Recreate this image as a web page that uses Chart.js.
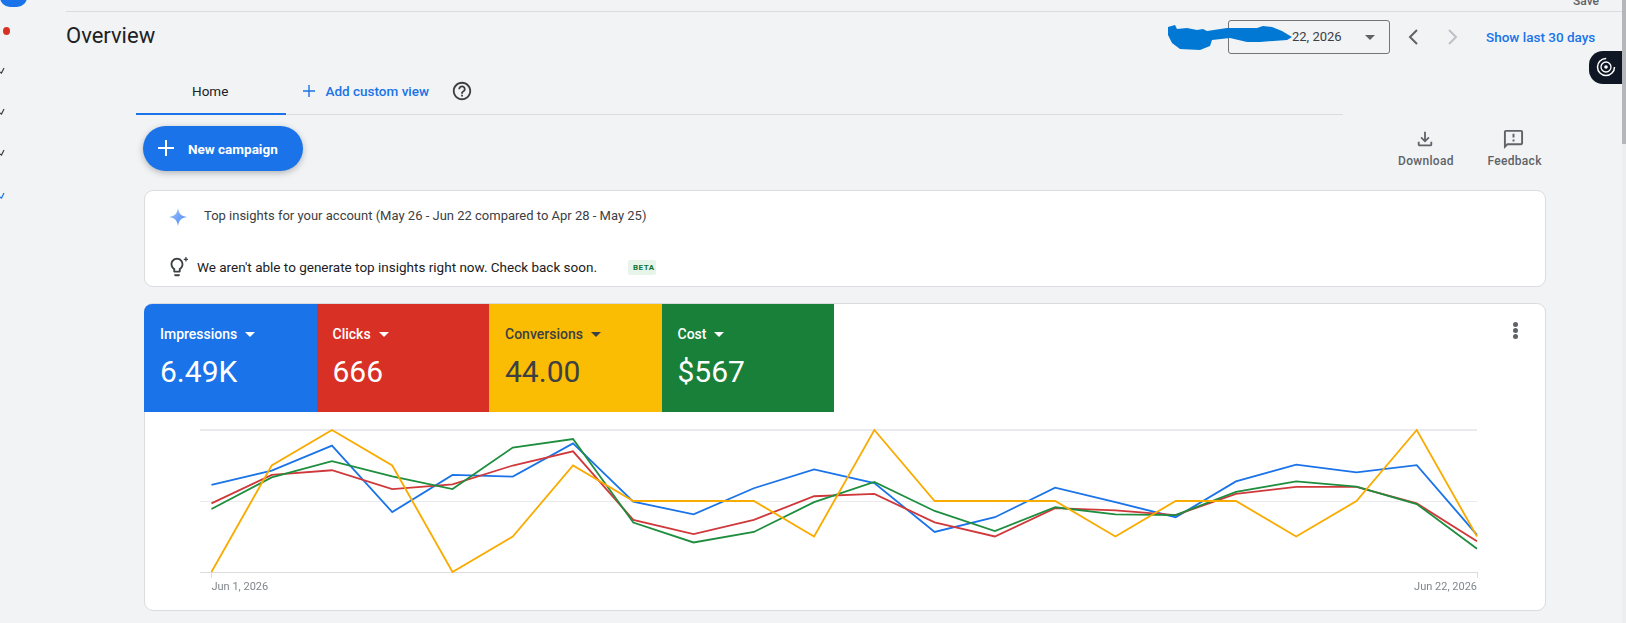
<!DOCTYPE html>
<html>
<head>
<meta charset="utf-8">
<title>Overview</title>
<script src="https://cdn.jsdelivr.net/npm/chart.js@4"></script>
<style>
  html, body { margin: 0; padding: 0; width: 1626px; height: 623px; overflow: hidden; background: #f1f3f5; font-family: Roboto, sans-serif; }
  .t { position: absolute; white-space: nowrap; line-height: 20px; }
  .box { position: absolute; box-sizing: border-box; }
  svg { position: absolute; display: block; }
  .card { background: #fff; border: 1px solid #dadce0; border-radius: 9px; }
  .tile { position: absolute; top: 304px; height: 108px; }
  .tile .nombre { position: absolute; left: 16px; top: 20px; font-size: 14px; font-weight: 500; line-height: 20px; white-space: nowrap; }
  .tile .caret { display: inline-block; margin-left: 8px; width: 0; height: 0; border-left: 5px solid transparent; border-right: 5px solid transparent; border-top: 5px solid currentColor; vertical-align: 2px; }
  .tile .valor { position: absolute; left: 16px; top: 48px; font-size: 30px; line-height: 40px; white-space: nowrap; }
  #grafica { position: absolute; left: 144px; top: 412px; }
</style>
</head>
<body>

<!-- menu lateral -->
<div class="box" style="left:0;top:-12px;width:27px;height:19px;background:#1a73e8;border-radius:0 0 10px 10px"></div>
<div class="box" style="left:3px;top:27px;width:7px;height:8px;background:#d93025;border-radius:50%"></div>
<svg style="left:0;top:66px" width="6" height="8"><path d="M0 6 L1.5 7 L4 2" fill="none" stroke="#3c4043" stroke-width="1.2"/></svg>
<svg style="left:0;top:107px" width="6" height="8"><path d="M0 6 L1.5 7 L4 2" fill="none" stroke="#3c4043" stroke-width="1.2"/></svg>
<svg style="left:0;top:148px" width="6" height="8"><path d="M0 6 L1.5 7 L4 2" fill="none" stroke="#3c4043" stroke-width="1.2"/></svg>
<svg style="left:0;top:191px" width="6" height="8"><path d="M0 6 L1.5 7 L4 2" fill="none" stroke="#1a73e8" stroke-width="1.2"/></svg>

<!-- cabecera -->
<div class="t" style="left:1573px;top:-9px;font-size:12px;font-weight:500;color:#5f6368">Save</div>
<div class="box" style="left:66px;top:11px;width:1556px;height:1px;background:#dadce0"></div>
<div class="t" style="left:66px;top:26px;font-size:22px;color:#202124">Overview</div>

<div class="box" style="left:1228px;top:20px;width:162px;height:34px;border:1px solid #70757a;border-radius:3px"></div>
<svg style="left:1150px;top:15px" width="160" height="45"><path d="M18 12 L25 10 L27 14 L37 13 L47 15 L53 14 L57 16 L77 13 L107 13 L113 11 L122 12 L132 16 L142 22 L137 25 L110 27 L97 27 L80 23 L62 25 L60 31 L50 35 L30 34 L22 28 L18 20 Z" fill="#0078d4"/></svg>
<div class="t" style="left:1292px;top:27px;font-size:13px;color:#3c4043">22, 2026</div>
<div class="box" style="left:1365px;top:34.5px;width:0;height:0;border-left:5px solid transparent;border-right:5px solid transparent;border-top:5px solid #5f6368"></div>
<svg style="left:1404px;top:27px" width="18" height="20"><path d="M13 3 L6 10 L13 17" fill="none" stroke="#5f6368" stroke-width="2"/></svg>
<svg style="left:1444px;top:27px" width="18" height="20"><path d="M5 3 L12 10 L5 17" fill="none" stroke="#bdc1c6" stroke-width="2"/></svg>
<div class="t" style="left:1486px;top:27px;font-size:13.5px;font-weight:500;color:#1a73e8">Show last 30 days</div>

<div class="box" style="left:1589px;top:51px;width:37px;height:33px;background:#0f1624;border-radius:14px 0 0 14px"></div>
<svg style="left:1595px;top:55px" width="24" height="24"><circle cx="11" cy="12" r="8.5" fill="none" stroke="#fff" stroke-width="1.5" stroke-dasharray="40 14"/><circle cx="11" cy="12" r="5" fill="none" stroke="#fff" stroke-width="1.3"/><circle cx="11" cy="12" r="1.8" fill="#fff"/></svg>
<div class="box" style="left:1622px;top:0;width:4px;height:623px;background:#eceef0"></div>
<div class="box" style="left:1622px;top:0;width:4px;height:144px;background:#b4b6b9"></div>

<!-- pestanas -->
<div class="t" style="left:192px;top:81px;font-size:13.5px;color:#202124">Home</div>
<div class="box" style="left:136px;top:113px;width:150px;height:1.5px;background:#1a73e8"></div>
<div class="box" style="left:286px;top:114px;width:1057px;height:1px;background:#dadce0"></div>
<svg style="left:303px;top:85px" width="12" height="12"><path d="M6 0 V12 M0 6 H12" stroke="#1a73e8" stroke-width="1.4"/></svg>
<div class="t" style="left:325.5px;top:81px;font-size:13.5px;font-weight:500;color:#1a73e8">Add custom view</div>
<svg style="left:451px;top:80px" width="22" height="22" viewBox="0 0 24 24"><path fill="#3c4043" d="M11 18h2v-2h-2v2zm1-16C6.48 2 2 6.48 2 12s4.48 10 10 10 10-4.48 10-10S17.52 2 12 2zm0 18c-4.41 0-8-3.59-8-8s3.59-8 8-8 8 3.59 8 8-3.59 8-8 8zm0-14c-2.21 0-4 1.79-4 4h2c0-1.1.9-2 2-2s2 .9 2 2c0 2-3 1.75-3 5h2c0-2.25 3-2.5 3-5 0-2.21-1.79-4-4-4z"/></svg>

<!-- boton -->
<div class="box" style="left:143px;top:126px;width:160px;height:45px;background:#1a73e8;border-radius:23px;box-shadow:0 2px 6px rgba(60,64,67,.35)"></div>
<svg style="left:158px;top:140px" width="16" height="16"><path d="M8 0 V16 M0 8 H16" stroke="#fff" stroke-width="2"/></svg>
<div class="t" style="left:188px;top:139px;font-size:13.5px;font-weight:700;color:#fff">New campaign</div>

<svg style="left:1416px;top:130px" width="18" height="18" viewBox="2 2 20 20"><path fill="#5f6368" d="M12 16l-5-5 1.4-1.45 2.6 2.6V4h2v8.15l2.6-2.6L17 11l-5 5zm-6 4c-.55 0-1.02-.2-1.41-.59C4.2 19.02 4 18.55 4 18v-3h2v3h12v-3h2v3c0 .55-.2 1.02-.59 1.41-.39.39-.86.59-1.41.59H6z"/></svg>
<div class="t" style="left:1398px;top:151px;font-size:12px;font-weight:500;letter-spacing:.3px;color:#5f6368">Download</div>
<svg style="left:1503px;top:129px" width="21" height="21" viewBox="1 1 22 22"><path fill="#5f6368" d="M20 2H4c-1.1 0-2 .9-2 2v18l4-4h14c1.1 0 2-.9 2-2V4c0-1.1-.9-2-2-2zm0 14H5.17L4 17.17V4h16v12zM11 12h2v2h-2zm0-6h2v4h-2z"/></svg>
<div class="t" style="left:1487.5px;top:151px;font-size:12px;font-weight:500;letter-spacing:.3px;color:#5f6368">Feedback</div>

<!-- insights -->
<div class="box card" style="left:143.5px;top:190px;width:1402px;height:97px"></div>
<svg style="left:168px;top:207px" width="20" height="20" viewBox="0 0 20 20"><defs><linearGradient id="g" x1="0" y1="0" x2="1" y2="1"><stop offset="0" stop-color="#a8c7fa"/><stop offset="1" stop-color="#4285f4"/></linearGradient></defs><path d="M10 1 C10.8 6.5 13 9 19 10 C13 11 10.8 13.5 10 19 C9.2 13.5 7 11 1 10 C7 9 9.2 6.5 10 1 Z" fill="url(#g)"/></svg>
<div class="t" style="left:204px;top:206px;font-size:13px;color:#3c4043">Top insights for your account (May 26 - Jun 22 compared to Apr 28 - May 25)</div>
<svg style="left:166px;top:256px" width="22" height="22" viewBox="0 0 24 24"><path fill="#3c4043" d="M9 21c0 .55.45 1 1 1h4c.55 0 1-.45 1-1v-1H9v1zm3-19C8.14 2 5 5.14 5 9c0 2.38 1.19 4.47 3 5.74V17c0 .55.45 1 1 1h6c.55 0 1-.45 1-1v-2.26c1.81-1.27 3-3.36 3-5.74 0-3.86-3.14-7-7-7zm2.85 11.1l-.85.6V16h-4v-2.3l-.85-.6C7.8 12.16 7 10.63 7 9c0-2.76 2.24-5 5-5s5 2.24 5 5c0 1.63-.8 3.16-2.15 4.1z"/><path fill="#3c4043" d="M21 1h1.4v2H24v1.4h-1.6V6H21V4.4h-1.6V3H21z"/></svg>
<div class="t" style="left:197px;top:257px;font-size:13.5px;color:#202124">We aren't able to generate top insights right now. Check back soon.</div>
<div class="box" style="left:628px;top:260px;width:28px;height:15px;background:#e6f4ea;border-radius:2px"></div>
<div class="t" style="left:633px;top:257.5px;font-size:8px;font-weight:700;letter-spacing:.5px;color:#137333">BETA</div>

<!-- tarjeta de metricas -->
<div class="box card" style="left:143.5px;top:303px;width:1402px;height:307.5px"></div>
<div class="tile" style="left:144px;width:172.5px;background:#1a73e8;color:#fff;border-top-left-radius:8px"><div class="nombre">Impressions<span class="caret"></span></div><div class="valor">6.49K</div></div>
<div class="tile" style="left:316.5px;width:172.5px;background:#d93025;color:#fff"><div class="nombre">Clicks<span class="caret"></span></div><div class="valor">666</div></div>
<div class="tile" style="left:489px;width:172.5px;background:#fbbc04;color:#3c4043"><div class="nombre">Conversions<span class="caret"></span></div><div class="valor">44.00</div></div>
<div class="tile" style="left:661.5px;width:172.5px;background:#188038;color:#fff"><div class="nombre">Cost<span class="caret"></span></div><div class="valor">$567</div></div>
<div class="box" style="left:1513px;top:322px;width:5px;height:5px;border-radius:50%;background:#5f6368"></div>
<div class="box" style="left:1513px;top:328px;width:5px;height:5px;border-radius:50%;background:#5f6368"></div>
<div class="box" style="left:1513px;top:334px;width:5px;height:5px;border-radius:50%;background:#5f6368"></div>

<canvas id="grafica" width="1401" height="198"></canvas>

<script>
const fechas = ['Jun 1, 2026', 'Jun 2, 2026', 'Jun 3, 2026', 'Jun 4, 2026', 'Jun 5, 2026', 'Jun 6, 2026', 'Jun 7, 2026', 'Jun 8, 2026', 'Jun 9, 2026', 'Jun 10, 2026', 'Jun 11, 2026',
                'Jun 12, 2026', 'Jun 13, 2026', 'Jun 14, 2026', 'Jun 15, 2026', 'Jun 16, 2026', 'Jun 17, 2026', 'Jun 18, 2026', 'Jun 19, 2026', 'Jun 20, 2026', 'Jun 21, 2026', 'Jun 22, 2026'];
const impresiones = [307, 357, 445, 211, 342, 336, 453, 248, 203, 295, 361, 313, 141, 193, 297, 246, 193, 319, 378, 351, 376, 131];
const clics = [29, 41, 43, 35, 37, 45, 51, 22, 16, 22, 32, 33, 21, 15, 27, 26, 24, 33, 36, 36, 29, 13];
const conversiones = [0, 3, 4, 3, 0, 1, 3, 2, 2, 2, 1, 4, 2, 2, 2, 1, 2, 2, 1, 2, 4, 1];
const costo = [22.2, 33.3, 39.0, 33.7, 29.2, 43.8, 46.8, 17.4, 10.4, 14.1, 24.6, 31.7, 21.5, 14.4, 22.8, 20.3, 20.0, 28.2, 31.9, 30.1, 23.9, 8.2];

// cada serie lleva su propia escala, como en la pagina original
const serie = function( leyenda, datos, color, eje, orden )
{
    return { label: leyenda, data: datos.map((v, i) => ({ x: i, y: v })), borderColor: color, borderWidth: 1.8,
             pointRadius: 0, tension: 0, clip: false, yAxisID: eje, order: orden };
};

const ejeOculto = function( maximo )
{
    return { display: false, min: 0, max: maximo };
};

const ctx = document.getElementById('grafica').getContext('2d');
new Chart(ctx, {
    type: 'line',
    data: { datasets: [
        serie('Impressions', impresiones, '#1a73e8', 'yImp', 3),
        serie('Clicks', clics, '#d0393b', 'yCli', 2),
        serie('Conversions', conversiones, '#f9ab00', 'yCon', 0),
        serie('Cost', costo, '#1e8e3e', 'yCos', 1)
    ] },
    options: {
        responsive: false,
        animation: false,
        layout: { padding: { left: 56, right: 68, top: 18, bottom: 0 } },
        plugins: { legend: { display: false }, tooltip: { enabled: false } },
        scales: {
            x: {
                type: 'linear', min: -0.19, max: 21,
                afterBuildTicks: (eje) => { eje.ticks = [{ value: 0 }, { value: 21 }]; },
                afterFit: (eje) => { eje.height = 38; },
                border: { display: false },
                grid: { drawOnChartArea: false, tickLength: 6, color: '#dadce0' },
                ticks: { align: 'inner', autoSkip: false, maxRotation: 0, padding: 3, color: '#80868b',
                         font: { family: 'Roboto', size: 11 }, callback: (v) => fechas[v] }
            },
            yImp: {
                min: 0, max: 500,
                afterBuildTicks: (eje) => { eje.ticks = [{ value: 0 }, { value: 250 }, { value: 500 }]; },
                afterFit: (eje) => { eje.width = 0; },
                border: { display: false },
                ticks: { display: false },
                grid: { drawTicks: false, color: (c) => c.tick.value === 0 ? '#dadce0' : '#e8eaed',
                        lineWidth: (c) => c.tick.value === 500 ? 2 : 1 }
            },
            yCli: ejeOculto(60),
            yCon: ejeOculto(4),
            yCos: ejeOculto(50)
        }
    }
});
</script>
</body>
</html>
